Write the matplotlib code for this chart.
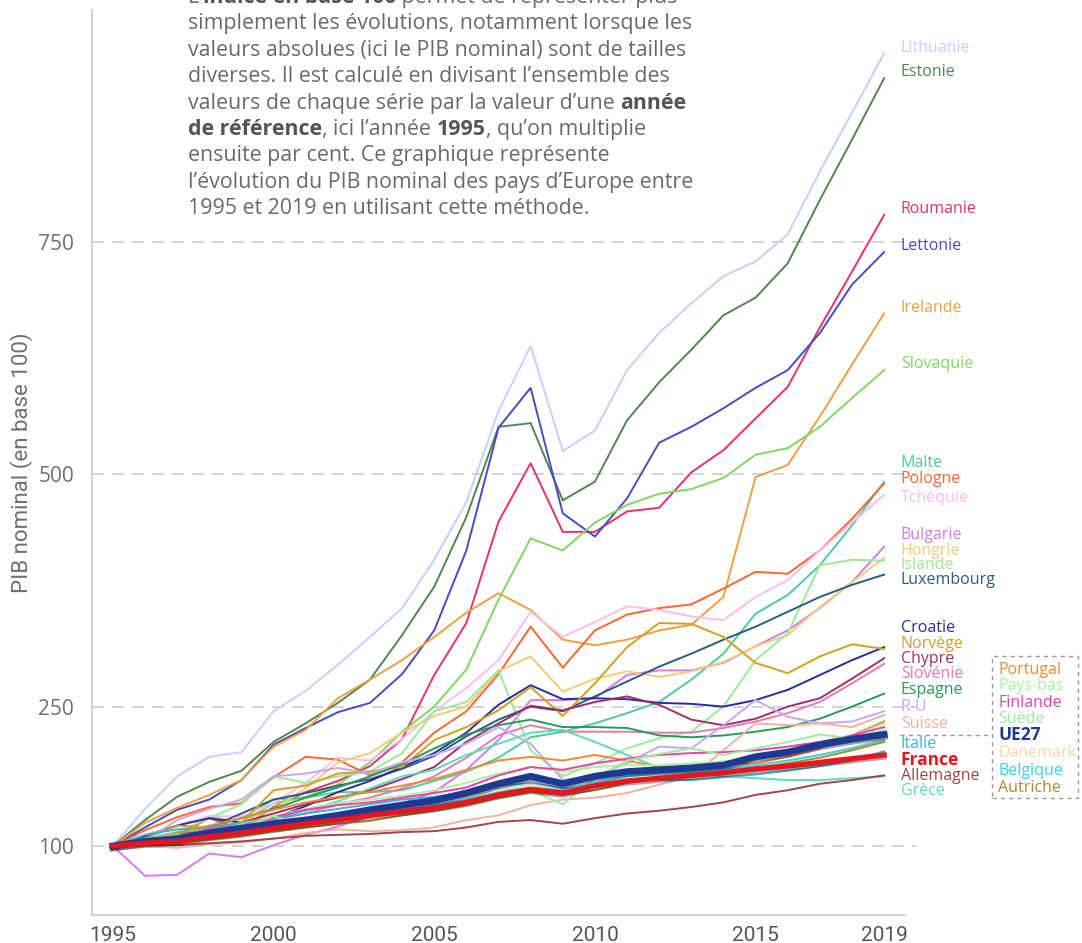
import matplotlib
matplotlib.use('Agg')
import matplotlib.pyplot as plt
import matplotlib.patheffects as pe
from matplotlib.patches import Rectangle
from matplotlib.lines import Line2D

# ---------------------------------------------------------------------------------------
"""données : PIB nominal en base 100 (1995)"""
annees = list(range(1995, 2020))

lituanie = [100, 140, 175, 196, 201, 245, 267, 295, 325, 356, 408, 470, 568, 638, 525, 547, 612, 652, 684, 713, 729, 758, 826, 889, 953]
estonie = [100, 128, 153, 169, 181, 212, 232, 254, 279, 327, 379, 454, 551, 555, 472, 492, 558, 599, 634, 671, 690, 727, 795, 860, 926]
roumanie = [100, 102, 112, 130, 118, 142, 158, 170, 186, 215, 284, 340, 449, 512, 438, 438, 460, 464, 502, 526, 560, 594, 658, 718, 779]
lettonie = [100, 120, 139, 150, 171, 209, 227, 244, 254, 285, 332, 418, 550, 593, 458, 433, 474, 534, 551, 571, 593, 612, 652, 704, 739]
irlande = [100, 125, 141, 155, 171, 207, 225, 259, 279, 300, 325, 351, 372, 354, 322, 316, 322, 332, 338, 368, 497, 510, 562, 618, 673]
slovaquie = [100, 112, 122, 132, 125, 146, 153, 166, 190, 223, 250, 290, 365, 431, 418, 448, 467, 479, 484, 496, 521, 528, 551, 582, 612]
malte = [100, 106, 113, 120, 130, 150, 152, 158, 158, 160, 170, 180, 195, 217, 223, 232, 243, 255, 279, 307, 350, 370, 402, 445, 492]
pologne = [100, 117, 131, 142, 146, 174, 196, 193, 176, 190, 222, 245, 285, 336, 292, 332, 349, 356, 360, 377, 395, 393, 418, 452, 490]
tchequie = [100, 112, 122, 132, 132, 146, 168, 195, 192, 215, 245, 270, 300, 352, 325, 341, 358, 354, 347, 343, 368, 386, 418, 448, 478]
bulgarie = [100, 68, 69, 92, 88, 101, 112, 121, 132, 146, 158, 182, 214, 257, 257, 259, 284, 289, 289, 297, 315, 332, 356, 384, 422]
hongrie = [100, 103, 113, 120, 125, 140, 162, 190, 200, 222, 240, 250, 288, 304, 266, 280, 288, 282, 288, 298, 315, 327, 357, 384, 410]
islande = [100, 105, 115, 130, 145, 175, 168, 175, 180, 200, 245, 255, 289, 203, 175, 189, 205, 216, 223, 250, 300, 329, 402, 408, 407]
luxembourg = [100, 103, 110, 120, 135, 150, 157, 165, 172, 183, 197, 218, 236, 250, 245, 261, 277, 293, 307, 322, 336, 352, 368, 381, 392]
croatie = [100, 110, 122, 130, 125, 130, 143, 158, 170, 185, 200, 222, 252, 273, 258, 259, 258, 254, 253, 250, 257, 268, 284, 300, 314]
norvege = [100, 108, 122, 120, 125, 160, 165, 178, 180, 185, 214, 228, 246, 271, 240, 275, 314, 340, 339, 325, 297, 286, 304, 317, 312]
chypre = [100, 105, 112, 118, 125, 135, 145, 152, 160, 172, 185, 212, 232, 251, 246, 255, 261, 252, 236, 230, 237, 250, 259, 280, 302]
slovenie = [100, 105, 108, 115, 125, 128, 135, 145, 152, 162, 175, 195, 219, 230, 223, 223, 223, 222, 222, 227, 234, 243, 255, 275, 296]
espagne = [100, 107, 113, 121, 130, 140, 152, 163, 175, 188, 205, 220, 230, 236, 228, 228, 227, 219, 217, 219, 223, 228, 237, 250, 264]
royaume_uni = [100, 105, 128, 140, 150, 175, 178, 184, 178, 190, 198, 210, 228, 210, 171, 175, 189, 207, 205, 230, 257, 239, 232, 234, 245]
suisse = [100, 100, 98, 102, 104, 108, 114, 118, 116, 117, 120, 128, 133, 144, 150, 152, 157, 166, 175, 203, 232, 230, 232, 228, 241]
italie = [100, 112, 118, 120, 124, 130, 135, 140, 145, 150, 153, 158, 164, 168, 162, 166, 171, 171, 171, 174, 177, 181, 186, 192, 202]
france = [100, 103, 105, 110, 114, 119, 124, 128, 133, 137, 141, 147, 155, 161, 157, 165, 170, 173, 176, 179, 183, 186, 190, 194, 198]
allemagne = [100, 101, 101, 103, 105, 108, 111, 112, 113, 115, 116, 120, 126, 128, 124, 130, 135, 138, 142, 147, 155, 160, 167, 171, 176]
grece = [100, 108, 115, 118, 125, 130, 138, 148, 162, 175, 182, 198, 210, 222, 225, 212, 198, 184, 178, 175, 173, 171, 171, 173, 175]
portugal = [100, 107, 114, 122, 130, 139, 147, 153, 158, 165, 172, 182, 192, 196, 192, 198, 192, 185, 185, 187, 189, 196, 205, 219, 234]
pays_bas = [100, 104, 110, 116, 123, 132, 140, 146, 150, 154, 160, 168, 178, 185, 180, 185, 187, 187, 189, 191, 194, 200, 207, 218, 232]
finlande = [100, 103, 110, 118, 122, 131, 139, 144, 147, 152, 157, 163, 176, 185, 182, 189, 194, 198, 200, 201, 203, 207, 212, 219, 228]
suede = [100, 108, 112, 114, 120, 132, 122, 128, 134, 140, 142, 150, 162, 160, 145, 173, 192, 199, 205, 198, 205, 212, 220, 216, 225]
ue27 = [100, 105, 108, 114, 119, 124, 128, 133, 139, 144, 149, 157, 167, 175, 167, 175, 180, 182, 184, 187, 196, 201, 209, 215, 220]
danemark = [100, 104, 108, 112, 116, 122, 127, 131, 135, 141, 147, 155, 161, 166, 160, 166, 170, 175, 178, 182, 186, 191, 198, 206, 216]
belgique = [100, 102, 105, 109, 114, 120, 124, 129, 133, 139, 144, 150, 158, 163, 160, 168, 175, 178, 180, 183, 187, 192, 198, 205, 214]
autriche = [100, 101, 103, 107, 111, 116, 120, 124, 127, 133, 138, 144, 152, 158, 155, 160, 168, 173, 176, 180, 184, 189, 195, 203, 212]

# (nom, série, couleur) -> ordre de tracé
series = [
    ('Lithuanie', lituanie, '#c4d0ff'),
    ('Estonie', estonie, '#4f874f'),
    ('Roumanie', roumanie, '#e8306a'),
    ('Lettonie', lettonie, '#4a4ac4'),
    ('Irelande', irlande, '#eca040'),
    ('Slovaquie', slovaquie, '#80d860'),
    ('Malte', malte, '#4ccc9c'),
    ('Pologne', pologne, '#ff6530'),
    ('Tchéquie', tchequie, '#ffbcf2'),
    ('Bulgarie', bulgarie, '#d67af0'),
    ('Hongrie', hongrie, '#f4cc78'),
    ('Islande', islande, '#98ec98'),
    ('Luxembourg', luxembourg, '#2b5c80'),
    ('Croatie', croatie, '#2b2ba0'),
    ('Norvège', norvege, '#d4a020'),
    ('Chypre', chypre, '#a02e68'),
    ('Slovénie', slovenie, '#e07cb4'),
    ('Espagne', espagne, '#279a58'),
    ('R-U', royaume_uni, '#c8a6f2'),
    ('Suisse', suisse, '#f4b0a0'),
    ('Grèce', grece, '#5cdcb4'),
    ('Allemagne', allemagne, '#a04646'),
    ('Italie', italie, '#3cb0d8'),
    ('Portugal', portugal, '#f08a30'),
    ('Pays-bas', pays_bas, '#aef0a0'),
    ('Finlande', finlande, '#f040a6'),
    ('Suède', suede, '#9eec9e'),
    ('Danemark', danemark, '#ffd4aa'),
    ('Belgique', belgique, '#2ed6ee'),
    ('Autriche', autriche, '#b08830'),
]

# étiquettes à droite : (nom, y en pixels, couleur, gras)
etiquettes_droite = [
    ('Lithuanie', 48, '#c4d0ff', False), ('Estonie', 72, '#4f874f', False),
    ('Roumanie', 209, '#e8306a', False), ('Lettonie', 246, '#4a4ac4', False),
    ('Irelande', 308, '#eca040', False), ('Slovaquie', 364, '#80d860', False),
    ('Malte', 463, '#4ccc9c', False), ('Pologne', 479, '#ff6530', False),
    ('Tchéquie', 498, '#ffbcf2', False), ('Bulgarie', 535, '#d67af0', False),
    ('Hongrie', 551, '#f4cc78', False), ('Islande', 565, '#98ec98', False),
    ('Luxembourg', 580, '#2b5c80', False), ('Croatie', 628, '#2b2ba0', False),
    ('Norvège', 644, '#d4a020', False), ('Chypre', 659, '#a02e68', False),
    ('Slovénie', 674, '#e07cb4', False), ('Espagne', 690, '#279a58', False),
    ('R-U', 707, '#c8a6f2', False), ('Suisse', 724, '#f4b0a0', False),
    ('Italie', 744, '#3cb0d8', False), ('France', 760, '#e8141e', True),
    ('Allemagne', 776, '#a04646', False), ('Grèce', 791, '#5cdcb4', False),
]
etiquettes_boite = [
    ('Portugal', 670, '#f08a30', False), ('Pays-bas', 686, '#aef0a0', False),
    ('Finlande', 703, '#f040a6', False), ('Suède', 719, '#9eec9e', False),
    ('UE27', 735, '#1c3a92', True), ('Danemark', 753, '#ffd4aa', False),
    ('Belgique', 771, '#2ed6ee', False), ('Autriche', 788, '#b08830', False),
]

texte_lignes = [
    [('L’', False), ('indice en base 100', True), (' permet de représenter plus', False)],
    [('simplement les évolutions, notamment lorsque les', False)],
    [('valeurs absolues (ici le PIB nominal) sont de tailles', False)],
    [('diverses. Il est calculé en divisant l’ensemble des', False)],
    [('valeurs de chaque série par la valeur d’une ', False), ('année', True)],
    [('de référence', True), (', ici l’année ', False), ('1995', True), (', qu’on multiplie', False)],
    [('ensuite par cent. Ce graphique représente', False)],
    [('l’évolution du PIB nominal des pays d’Europe entre', False)],
    [('1995 et 2019 en utilisant cette méthode.', False)],
]

W, H = 1082, 943
POLICE = ['Open Sans', 'DejaVu Sans']
ETROITE = ['Liberation Sans Narrow', 'Roboto', 'DejaVu Sans']

fig = plt.figure(figsize=(W / 100, H / 100), dpi=100)
ax = fig.add_axes([92 / W, 28 / H, (905 - 92) / W, (915 - 10) / H])

# ---------------------------------------------------------------------------------------
"""courbes"""
for nom, valeurs, couleur in series:
    ax.plot(annees, valeurs, color=couleur, lw=1.4, solid_joinstyle='miter', zorder=3)

ombre = [pe.SimpleLineShadow(offset=(0, -1.5), shadow_color='#000000', alpha=0.35), pe.Normal()]
ax.plot(annees, ue27, color='#1c3a92', lw=5.0, zorder=5, path_effects=ombre)
ax.plot(annees, france, color='#e8141e', lw=3.8, zorder=6, path_effects=ombre)

# ---------------------------------------------------------------------------------------
"""axes"""
ax.set_xlim(1994.35, 2019.65)
ax.set_ylim(25.8, 999.5)
ax.set_xticks([1995, 2000, 2005, 2010, 2015, 2019])
ax.set_yticks([100, 250, 500, 750])
for v in [100, 250, 500, 750]:
    ax.add_line(Line2D([1994.35, 2020.0], [v, v], color='#cccccc', lw=1.2,
                       dashes=(7, 5), zorder=1, clip_on=False))
ax.tick_params(length=0)
for lab in ax.get_xticklabels():
    lab.set_family(ETROITE)
    lab.set_fontsize(15)
    lab.set_color('#555555')
for lab in ax.get_yticklabels():
    lab.set_family(POLICE)
    lab.set_fontsize(15)
    lab.set_color('#707070')
ax.tick_params(axis='x', pad=8)
ax.tick_params(axis='y', pad=13)
ax.set_ylabel('PIB nominal (en base 100)', family=ETROITE, fontsize=16, color='#707070', labelpad=4)

for s in ['top', 'right']:
    ax.spines[s].set_visible(False)
for s in ['left', 'bottom']:
    ax.spines[s].set_color('#d4d4d4')
    ax.spines[s].set_linewidth(1.6)

# ---------------------------------------------------------------------------------------
"""étiquettes"""
for nom, y, couleur, gras in etiquettes_droite:
    fig.text(901 / W, 1 - y / H, nom, color=couleur, family=POLICE, va='center',
             fontsize=12.5 if gras else 11.5, fontweight='bold' if gras else 'normal')
for nom, y, couleur, gras in etiquettes_boite:
    fig.text(998 / W, 1 - y / H, nom, color=couleur, family=POLICE, va='center',
             fontsize=12.5 if gras else 11.5, fontweight='bold' if gras else 'normal')

fig.add_artist(Rectangle((992 / W, 1 - 798 / H), (1078 - 992) / W, (798 - 656) / H,
                         transform=fig.transFigure, fill=False, ec='#999999', lw=1,
                         ls=(0, (3, 3))))
fig.add_artist(Line2D([900 / W, 992 / W], [1 - 735 / H, 1 - 735 / H],
                      transform=fig.transFigure, color='#999999', lw=1, ls=(0, (3, 3))))

# ---------------------------------------------------------------------------------------
"""texte explicatif (gras en partie)"""
renderer = fig.canvas.get_renderer()
for k, ligne in enumerate(texte_lignes):
    x = 188
    y = 3 + 26.4 * k
    for morceau, gras in ligne:
        t = fig.text(x / W, 1 - y / H, morceau, family=POLICE, fontsize=15.4,
                     color='#555555' if gras else '#6a6a6a', va='baseline',
                     fontweight='bold' if gras else 'normal')
        bb = t.get_window_extent(renderer=renderer)
        x = x + bb.width

fig.savefig('out.png', dpi=100)
